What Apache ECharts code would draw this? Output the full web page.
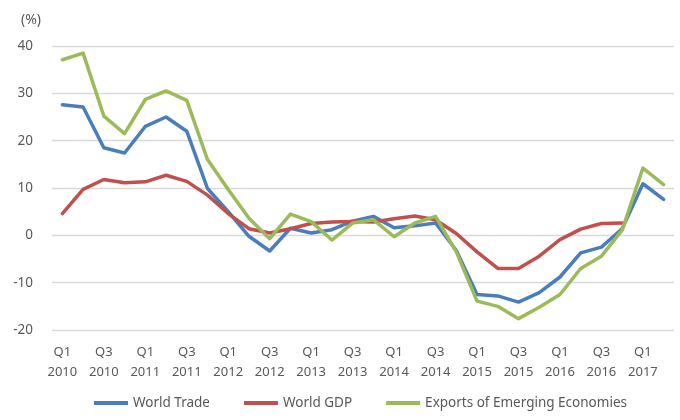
<!DOCTYPE html>
<html><head><meta charset="utf-8">
<script src="https://cdn.jsdelivr.net/npm/echarts@6/dist/echarts.min.js"></script>
<style>html,body{margin:0;padding:0;background:#fff}#c{width:680px;height:420px}</style>
</head><body><div id="c"></div>
<script>
const categories = [
 'Q1\n2010','Q2\n2010','Q3\n2010','Q4\n2010',
 'Q1\n2011','Q2\n2011','Q3\n2011','Q4\n2011',
 'Q1\n2012','Q2\n2012','Q3\n2012','Q4\n2012',
 'Q1\n2013','Q2\n2013','Q3\n2013','Q4\n2013',
 'Q1\n2014','Q2\n2014','Q3\n2014','Q4\n2014',
 'Q1\n2015','Q2\n2015','Q3\n2015','Q4\n2015',
 'Q1\n2016','Q2\n2016','Q3\n2016','Q4\n2016',
 'Q1\n2017','Q2\n2017'];
const worldTrade = [27.6,27.1,18.5,17.4,23.0,25.0,22.0,9.9,5.0,-0.2,-3.3,1.5,0.5,1.2,3.0,4.0,1.6,2.0,2.6,-3.2,-12.5,-12.8,-14.1,-12.1,-8.8,-3.7,-2.5,1.4,10.9,7.6];
const worldGDP = [4.6,9.7,11.8,11.1,11.3,12.7,11.4,8.5,4.6,1.4,0.5,1.4,2.5,2.8,2.9,2.8,3.5,4.1,3.3,0.4,-3.5,-7.0,-7.0,-4.4,-0.9,1.3,2.5,2.6,null,null];
const emergingExports = [37.1,38.5,25.2,21.5,28.7,30.5,28.5,16.0,9.7,3.6,-0.7,4.5,2.9,-1.0,2.6,3.3,-0.3,2.6,4.0,-3.5,-13.9,-15.0,-17.6,-15.2,-12.5,-7.0,-4.4,1.1,14.2,10.7];
const seriesNames = ['World Trade','World GDP','Exports of Emerging Economies'];
const colors = ['#4A7EBB','#C0504D','#9BBB59'];
const unitLabel = '(%)';

const chart = echarts.init(document.getElementById('c'), null, {renderer:'canvas'});
const font = 'Noto Sans';
function line(name, data, color){
  return {name, type:'line', data, symbol:'none', smooth:false, connectNulls:false,
    lineStyle:{width:3.5, color, cap:'round', join:'round'}, itemStyle:{color}};
}
chart.setOption({
  animation:false,
  title:{text:unitLabel, left:16, top:8,
    textStyle:{color:'#595959', fontSize:14, fontWeight:'normal', fontFamily:font}},
  grid:{left:52, right:6, top:46, bottom:90, containLabel:false},
  legend:{bottom:5, left:89, itemWidth:34, itemHeight:4, itemGap:34,
    icon:'rect',
    textStyle:{color:'#595959', fontSize:13.5, fontFamily:font},
    data:seriesNames},
  xAxis:{type:'category', data:categories, boundaryGap:true,
    axisLine:{show:false}, axisTick:{show:false},
    axisLabel:{interval:1, color:'#595959', fontSize:13, fontFamily:font, lineHeight:20, margin:12}},
  yAxis:{type:'value', min:-20, max:40, interval:10,
    axisLine:{show:false}, axisTick:{show:false},
    splitLine:{lineStyle:{color:'#D9D9D9', width:1.3}},
    axisLabel:{color:'#595959', fontSize:13.5, fontFamily:font, margin:19}},
  series:[line(seriesNames[0], worldTrade, colors[0]), line(seriesNames[1], worldGDP, colors[1]), line(seriesNames[2], emergingExports, colors[2])]
});
</script></body></html>
